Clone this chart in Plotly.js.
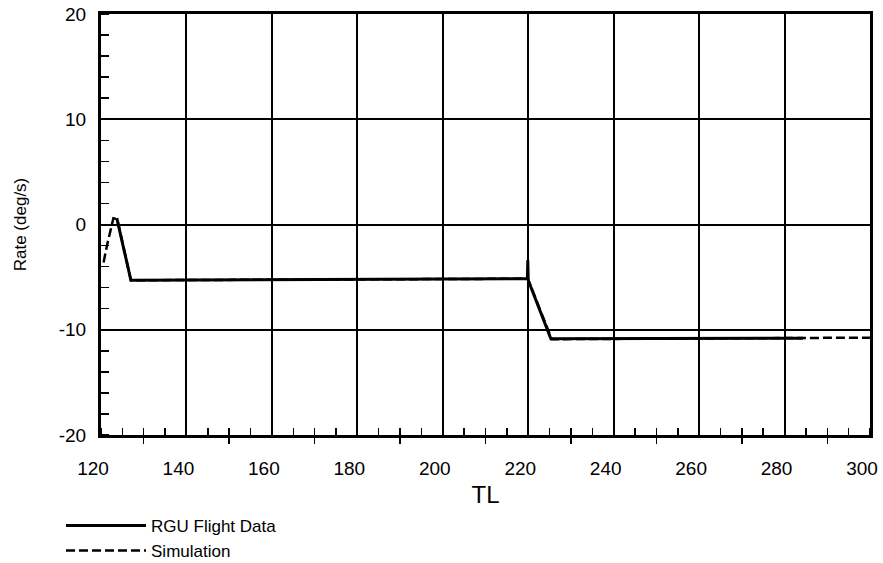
<!DOCTYPE html>
<html>
<head>
<meta charset="utf-8">
<script src="https://cdn.plot.ly/plotly-3.0.1.min.js"></script>
<style>html,body{margin:0;padding:0;background:#fff;}#chart{width:883px;height:563px;}</style>
</head>
<body>
<div id="chart"></div>
<script>
// RGU Flight Data (solid)
var rguX = [123.7, 127.0, 219.8, 219.9, 220.0, 225.3, 284.3];
var rguY = [0.6, -5.3, -5.15, -3.4, -5.3, -10.85, -10.8];
// Simulation (dashed)
var simX = [120.6, 121.4, 122.9, 123.8, 127.0, 219.9, 225.5, 300];
var simY = [-3.6, -2.0, 0.6, 0.5, -5.3, -5.15, -10.9, -10.75];

var xTickVals = [120, 140, 160, 180, 200, 220, 240, 260, 280, 300];
var xTickText = ["120", "140", "160", "180", "200", "220", "240", "260", "280", "300"];
var xLongTicks = [130, 150, 170, 190, 210, 230, 250, 270, 290];
var yTickVals = [-20, -10, 0, 10, 20];
var yTickText = ["-20", "-10", "0", "10", "20"];

var FONT = "Liberation Sans, Arial, sans-serif";

var traces = [
  {x: rguX, y: rguY, mode: "lines", name: "RGU Flight Data",
   line: {color: "#000", width: 3}},
  {x: simX, y: simY, mode: "lines", name: "Simulation",
   line: {color: "#000", width: 2.5, dash: "9px,4px"}},
  {x: [], y: [], xaxis: "x2", yaxis: "y", mode: "lines", showlegend: false, hoverinfo: "skip"}
];

var layout = {
  width: 883, height: 563,
  margin: {l: 101, r: 13, t: 14, b: 128},
  paper_bgcolor: "#fff", plot_bgcolor: "#fff",
  font: {family: FONT, color: "#000"},
  showlegend: true,
  legend: {xref: "paper", yref: "container", x: -0.052, xanchor: "left", y: 0.098, yanchor: "top",
           font: {family: FONT, size: 17, color: "#000"},
           bgcolor: "rgba(0,0,0,0)", itemwidth: 80, tracegroupgap: 0},
  xaxis: {
    range: [120, 300], tickvals: xTickVals, ticktext: xTickText,
    ticks: "", showgrid: true, gridcolor: "#000", gridwidth: 2,
    zeroline: false, showline: true, linecolor: "#000", linewidth: 3, mirror: true,
    tickfont: {family: FONT, size: 19, color: "#000"},
    ticklabelshift: -8, ticklabelstandoff: 14,
    minor: {dtick: 5, tick0: 120, ticks: "inside", ticklen: 7, tickwidth: 1.5, tickcolor: "#000", showgrid: false},
    title: {text: "TL", font: {family: FONT, size: 24, color: "#000"}, standoff: 10}
  },
  xaxis2: {
    overlaying: "x", anchor: "y", side: "bottom", range: [120, 300],
    tickvals: xLongTicks, ticks: "outside", ticklen: 8, tickwidth: 1.5, tickcolor: "#000",
    showticklabels: false, showgrid: false, zeroline: false, showline: false
  },
  yaxis: {
    range: [-20, 20], tickvals: yTickVals, ticktext: yTickText,
    ticks: "", showgrid: true, gridcolor: "#000", gridwidth: 2,
    zeroline: false, showline: true, linecolor: "#000", linewidth: 3, mirror: true,
    tickfont: {family: FONT, size: 19, color: "#000"},
    ticklabelstandoff: 8,
    minor: {dtick: 2, tick0: 0, ticks: "inside", ticklen: 8, tickwidth: 1.5, tickcolor: "#000", showgrid: false},
    title: {text: "Rate (deg/s)", font: {family: FONT, size: 17, color: "#000"}, standoff: 28}
  }
};

Plotly.newPlot("chart", traces, layout, {staticPlot: true, displayModeBar: false});
</script>
</body>
</html>
